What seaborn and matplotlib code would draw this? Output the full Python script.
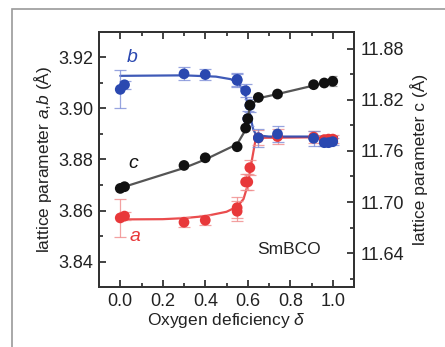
import matplotlib
matplotlib.use("Agg")
import matplotlib.pyplot as plt
import seaborn as sns
import pandas as pd
from matplotlib.ticker import MultipleLocator, FormatStrFormatter
from matplotlib.patches import Rectangle

sns.set_theme(style="white")
plt.rcParams["font.family"] = ["Liberation Sans", "DejaVu Sans"]
plt.rcParams["mathtext.fontset"] = "custom"
plt.rcParams["mathtext.it"] = "Liberation Sans:italic"
plt.rcParams["mathtext.rm"] = "Liberation Sans"

# measured lattice parameters vs oxygen deficiency
delta_ab = [0.0, 0.02, 0.30, 0.40, 0.55, 0.55, 0.59, 0.60, 0.61, 0.65, 0.74, 0.91, 0.96, 0.98, 1.0]
b_vals = [3.9075, 3.9093, 3.9136, 3.9133, 3.9114, 3.9110, 3.9070, 3.8960, 3.9012, 3.8885, 3.8900, 3.8883, 3.8866, 3.8866, 3.8870]
b_err = [0.0075, 0.0015, 0.0025, 0.0022, 0.0025, 0.0025, 0.0025, 0.0030, 0.0025, 0.0035, 0.0030, 0.0030, 0.0015, 0.0015, 0.0015]
a_vals = [3.8571, 3.8578, 3.8554, 3.8562, 3.8611, 3.8597, 3.8712, 3.8712, 3.8768, 3.8885, 3.8890, 3.8888, 3.8878, 3.8880, 3.8880]
a_err = [0.0073, 0.0015, 0.0020, 0.0020, 0.0040, 0.0040, 0.0030, 0.0030, 0.0030, 0.0030, 0.0030, 0.0025, 0.0015, 0.0015, 0.0015]

delta_c = [0.0, 0.02, 0.30, 0.40, 0.55, 0.59, 0.60, 0.61, 0.65, 0.74, 0.91, 0.96, 1.0]
c_vals = [11.716, 11.718, 11.743, 11.752, 11.765, 11.787, 11.798, 11.814, 11.823, 11.827, 11.838, 11.840, 11.842]
c_err = [0.002, 0.002, 0.002, 0.002, 0.002, 0.002, 0.002, 0.002, 0.002, 0.002, 0.002, 0.002, 0.006]

# guide-to-the-eye curves
fit_b_x = [0.0, 0.30, 0.45, 0.52, 0.56, 0.59, 0.61, 0.625, 0.64, 0.70, 1.02]
fit_b_y = [3.9128, 3.9130, 3.9125, 3.9115, 3.9095, 3.9050, 3.8980, 3.8920, 3.8895, 3.8890, 3.8890]
fit_a_x = [0.0, 0.20, 0.30, 0.40, 0.50, 0.55, 0.58, 0.60, 0.62, 0.635, 0.65, 1.02]
fit_a_y = [3.8565, 3.8566, 3.8570, 3.8578, 3.8595, 3.8615, 3.8645, 3.8700, 3.8800, 3.8870, 3.8885, 3.8888]
fit_c_x = [0.02, 0.30, 0.40, 0.55, 0.59, 0.61, 0.65, 0.74, 0.91, 1.0]
fit_c_y = [11.718, 11.740, 11.750, 11.768, 11.785, 11.812, 11.822, 11.827, 11.837, 11.842]

blue = "#2a48b0"
red = "#e8383a"
black = "#111111"
ink = "#222222"

fig = plt.figure(figsize=(4.45, 3.47), dpi=100)
ax = fig.add_axes([0.2225, 0.1729, 0.573, 0.7349])
ax2 = ax.twinx()

# outer frame (open at the bottom and right edge)
fig.patches.append(Rectangle((12 / 445, -0.2), 1.2, 1.2 - 9 / 347, transform=fig.transFigure,
                             fill=False, edgecolor="#9a9a9a", linewidth=1.2, zorder=0))

# fits
sns.lineplot(x=fit_a_x, y=fit_a_y, ax=ax, color=red, lw=1.6, alpha=0.9, zorder=2)
sns.lineplot(x=fit_b_x, y=fit_b_y, ax=ax, color=blue, lw=1.6, alpha=0.9, zorder=2)
sns.lineplot(x=fit_c_x, y=fit_c_y, ax=ax2, color="#555555", lw=1.6, zorder=2)

# error bars
ax.errorbar(delta_ab, a_vals, yerr=a_err, fmt="none", ecolor="#f08a8a", elinewidth=0.9,
            capsize=4, capthick=0.9, alpha=0.8, zorder=3)
ax.errorbar(delta_ab, b_vals, yerr=b_err, fmt="none", ecolor="#7d8ed8", elinewidth=0.9,
            capsize=4, capthick=0.9, alpha=0.8, zorder=3)
ax2.errorbar(delta_c, c_vals, yerr=c_err, fmt="none", ecolor="#888888", elinewidth=0.9,
             capsize=3, capthick=0.9, alpha=0.8, zorder=3)

# points
df_ab = pd.DataFrame({"delta": delta_ab, "a": a_vals, "b": b_vals})
df_c = pd.DataFrame({"delta": delta_c, "c": c_vals})
sns.scatterplot(data=df_ab, x="delta", y="a", ax=ax, color=red, s=60, edgecolor="none", zorder=4)
sns.scatterplot(data=df_ab, x="delta", y="b", ax=ax, color=blue, s=60, edgecolor="none", zorder=5)
sns.scatterplot(data=df_c, x="delta", y="c", ax=ax2, color=black, s=60, edgecolor="none", zorder=4)

ax.set_xlim(-0.1, 1.1)
ax.set_ylim(3.83, 3.93)
ax2.set_ylim(11.60, 11.90)

ax.xaxis.set_major_locator(MultipleLocator(0.2))
ax.xaxis.set_minor_locator(MultipleLocator(0.1))
ax.yaxis.set_major_locator(MultipleLocator(0.02))
ax.yaxis.set_minor_locator(MultipleLocator(0.01))
ax2.yaxis.set_major_locator(MultipleLocator(0.06))
ax2.yaxis.set_minor_locator(MultipleLocator(0.03))

ax.tick_params(axis="x", which="both", direction="in", top=True, bottom=True)
ax.tick_params(axis="y", which="both", direction="in", left=True, right=False)
ax.tick_params(which="major", length=5, width=1.2, labelsize=13, colors=ink, pad=4)
ax.tick_params(which="minor", length=3, width=1.2)
ax2.tick_params(axis="y", which="both", direction="in", right=True)
ax2.tick_params(which="major", length=5, width=1.2, labelsize=13, colors=ink, pad=5)
ax2.tick_params(which="minor", length=3, width=1.2)
ax.xaxis.set_major_formatter(FormatStrFormatter("%.1f"))
ax.yaxis.set_major_formatter(FormatStrFormatter("%.2f"))
ax2.yaxis.set_major_formatter(FormatStrFormatter("%.2f"))

for a_ in (ax, ax2):
    for sp in a_.spines.values():
        sp.set_linewidth(1.4)
        sp.set_color("#333333")

ax.set_xlabel(r"Oxygen deficiency $\delta$", fontsize=12.5, color=ink, labelpad=1)
ax.set_ylabel(r"lattice parameter $a$,$b$ (Å)", fontsize=12.5, color=ink, labelpad=3)
ax2.set_ylabel("lattice parameter c (Å)", fontsize=12.5, color=ink, labelpad=4)

ax.text(0.055, 3.920, "b", color=blue, fontsize=14, style="italic", ha="center", va="center")
ax.text(0.063, 3.8784, "c", color=black, fontsize=14, style="italic", ha="center", va="center")
ax.text(0.07, 3.8500, "a", color=red, fontsize=14, style="italic", ha="center", va="center")
ax.text(0.796, 3.8447, "SmBCO", color=ink, fontsize=12.5, ha="center", va="center")

fig.savefig("out.png", dpi=100)
